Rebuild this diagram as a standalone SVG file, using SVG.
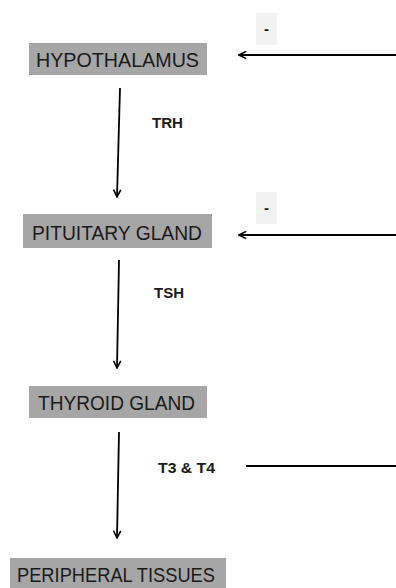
<svg xmlns="http://www.w3.org/2000/svg" width="396" height="588" viewBox="0 0 396 588">
<style>
.box{fill:#a6a6a6;}
.lbl{font-family:"Liberation Sans",Arial,sans-serif;font-size:20px;fill:#1a1a1a;}
.hl{font-family:"Liberation Sans",Arial,sans-serif;font-size:15px;font-weight:bold;fill:#1a1a1a;}
.neg{fill:#f2f2f2;}
.ln{stroke:#000;stroke-width:1.8;fill:none;}
</style>
<defs>
<marker id="ah" viewBox="0 0 10 10" refX="9" refY="5" markerWidth="9" markerHeight="9" markerUnits="userSpaceOnUse" orient="auto">
<path d="M1,1 L9,5 L1,9" fill="none" stroke="#000" stroke-width="1.8"/>
</marker>
</defs>
<rect width="396" height="588" fill="#fff"/>
<g id="hypothalamus">
<rect class="box" x="29" y="43" width="178" height="32"/>
<text class="lbl" x="36" y="66.5" textLength="163" lengthAdjust="spacingAndGlyphs">HYPOTHALAMUS</text>
</g>
<g id="pituitary">
<rect class="box" x="23" y="214" width="189" height="34"/>
<text class="lbl" x="32" y="239.5" textLength="170" lengthAdjust="spacingAndGlyphs">PITUITARY GLAND</text>
</g>
<g id="thyroid">
<rect class="box" x="29" y="386" width="178" height="32"/>
<text class="lbl" x="38" y="410" textLength="157" lengthAdjust="spacingAndGlyphs">THYROID GLAND</text>
</g>
<g id="peripheral">
<rect class="box" x="10" y="558" width="216" height="32"/>
<text class="lbl" x="17" y="582" textLength="198" lengthAdjust="spacingAndGlyphs">PERIPHERAL TISSUES</text>
</g>
<g id="neg1">
<rect class="neg" x="256" y="13" width="21" height="32"/>
<text class="hl" x="266.5" y="34" text-anchor="middle">-</text>
</g>
<g id="neg2">
<rect class="neg" x="256" y="192" width="21" height="32"/>
<text class="hl" x="266.5" y="213" text-anchor="middle">-</text>
</g>
<g id="connectors">
<line class="ln" x1="120" y1="88" x2="117" y2="197" marker-end="url(#ah)"/>
<line class="ln" x1="119" y1="260" x2="117" y2="368" marker-end="url(#ah)"/>
<line class="ln" x1="119" y1="432" x2="117" y2="538" marker-end="url(#ah)"/>
<line class="ln" x1="396" y1="55" x2="239" y2="55" marker-end="url(#ah)"/>
<line class="ln" x1="396" y1="235" x2="239" y2="235" marker-end="url(#ah)"/>
<line class="ln" x1="246" y1="466" x2="396" y2="466"/>
<text class="hl" x="152" y="128" textLength="31" lengthAdjust="spacingAndGlyphs">TRH</text>
<text class="hl" x="154" y="298" textLength="30" lengthAdjust="spacingAndGlyphs">TSH</text>
<text class="hl" x="158" y="473" textLength="57" lengthAdjust="spacingAndGlyphs">T3 &amp; T4</text>
</g>
</svg>
